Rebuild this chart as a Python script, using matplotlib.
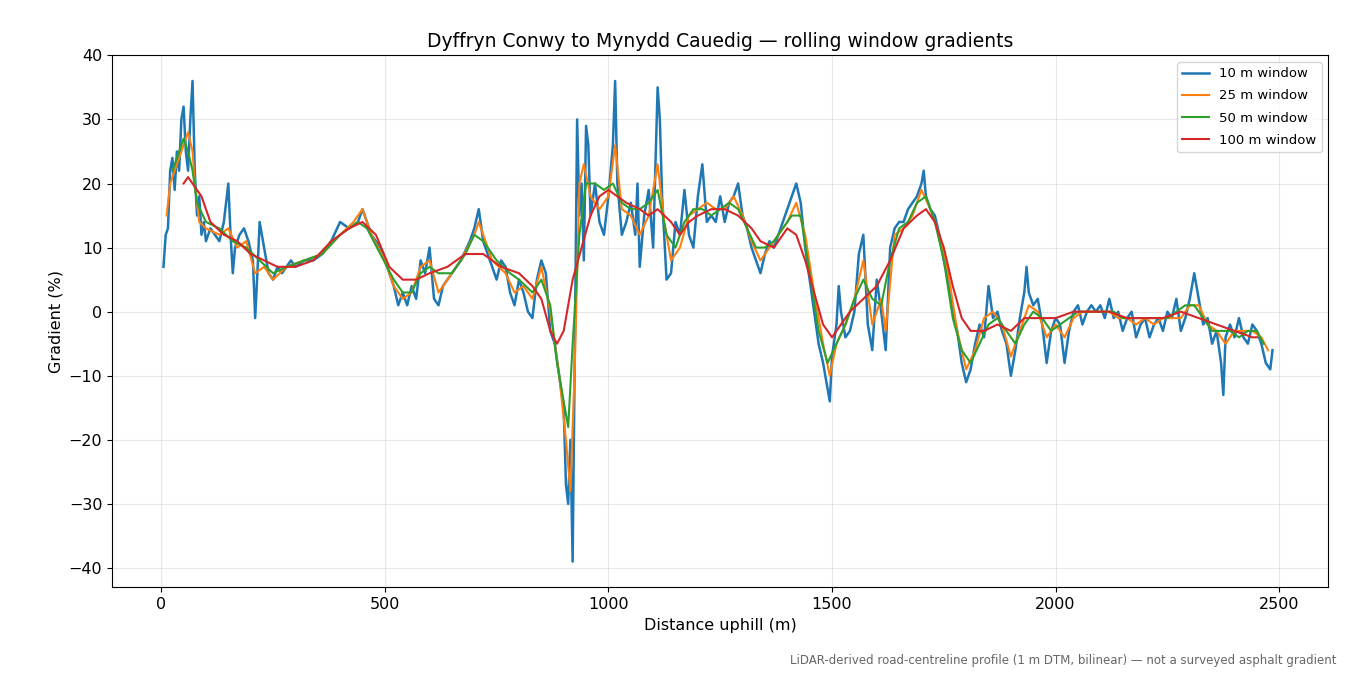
import matplotlib
matplotlib.use("Agg")
import matplotlib.pyplot as plt

# --------------------------------------------------
# Data
# --------------------------------------------------
w10 = [(5,7),(10,12),(15,13),(20,22),(25,24),(30,19),(35,25),(40,22),(45,30),(50,32),(55,25),(60,22),(65,30),(70,36),(75,22),(80,15),(85,18),(90,12),(95,14),(100,11),(110,13),(120,12),(130,11),(140,14),(150,20),(155,12),(160,6),(165,10),(175,12),(185,13),(195,11),(205,8),(210,-1),(215,6),(220,14),(230,10),(240,6),(250,5),(260,7),(270,6),(280,7),(290,8),(300,7),(320,8),(340,8),(360,9),(380,11),(400,14),(420,13),(440,14),(450,16),(460,14),(470,12),(480,11),(490,10),(500,8),(510,6),(520,4),(530,1),(540,3),(550,1),(560,4),(570,2),(580,8),(590,6),(600,10),(610,2),(620,1),(630,4),(650,6),(670,8),(690,11),(700,13),(710,16),(720,11),(730,9),(740,7),(750,5),(760,8),(770,7),(780,3),(790,1),(800,5),(810,3),(820,0),(830,-1),(840,5),(850,8),(860,6),(870,-3),(880,-5),(890,-10),(900,-15),(905,-27),(910,-30),(915,-20),(920,-39),(925,-5),(930,30),(935,15),(940,20),(945,8),(950,29),(955,26),(960,15),(970,20),(980,14),(990,12),(1000,18),(1010,26),(1015,36),(1020,20),(1030,12),(1040,14),(1050,17),(1060,12),(1065,20),(1070,7),(1080,15),(1090,19),(1100,10),(1110,35),(1115,30),(1120,18),(1130,5),(1140,6),(1150,14),(1160,12),(1170,19),(1180,12),(1190,10),(1200,18),(1210,23),(1220,14),(1230,15),(1240,14),(1250,18),(1260,14),(1270,17),(1280,18),(1290,20),(1300,15),(1310,13),(1320,10),(1330,8),(1340,6),(1350,9),(1360,11),(1370,10),(1380,12),(1390,14),(1400,16),(1410,18),(1420,20),(1430,17),(1440,10),(1450,5),(1460,0),(1470,-5),(1480,-8),(1490,-12),(1495,-14),(1500,-7),(1510,-2),(1515,4),(1520,0),(1530,-4),(1540,-3),(1550,0),(1560,9),(1570,12),(1580,-2),(1590,-6),(1600,5),(1610,0),(1620,-6),(1630,10),(1640,13),(1650,14),(1660,14),(1670,16),(1680,17),(1690,18),(1700,20),(1705,22),(1710,18),(1720,16),(1730,15),(1740,12),(1750,8),(1760,5),(1770,0),(1780,-3),(1790,-8),(1800,-11),(1810,-9),(1820,-5),(1830,-2),(1840,-4),(1850,4),(1860,-1),(1870,0),(1880,-3),(1890,-5),(1900,-10),(1910,-6),(1920,-1),(1930,3),(1935,7),(1940,3),(1950,1),(1960,2),(1970,-2),(1980,-8),(1990,-3),(2000,-1),(2010,-2),(2020,-8),(2030,-3),(2040,0),(2050,1),(2060,-2),(2070,0),(2080,1),(2090,0),(2100,1),(2110,-1),(2120,2),(2130,-1),(2140,0),(2150,-3),(2160,-1),(2170,0),(2180,-4),(2190,-2),(2200,-1),(2210,-4),(2220,-2),(2230,-1),(2240,-3),(2250,0),(2260,-1),(2270,2),(2280,-3),(2290,-1),(2300,2),(2310,6),(2320,2),(2330,-2),(2340,-1),(2350,-5),(2360,-3),(2370,-8),(2375,-13),(2380,-4),(2390,-2),(2400,-4),(2410,-1),(2420,-4),(2430,-5),(2440,-2),(2450,-3),(2460,-5),(2470,-8),(2480,-9),(2485,-6)]

w25 = [(12,15),(20,20),(30,22),(40,24),(50,26),(60,28),(70,25),(75,20),(85,14),(100,13),(130,12),(150,13),(170,10),(190,11),(210,6),(230,7),(250,5),(280,7),(320,8),(360,9),(400,12),(430,14),(450,16),(470,12),(500,8),(520,4),(540,2),(560,3),(580,7),(600,8),(620,3),(640,5),(670,8),(700,12),(710,14),(740,8),(770,6),(790,3),(810,4),(830,2),(850,7),(870,0),(890,-10),(905,-20),(915,-28),(925,-8),(935,20),(945,23),(960,18),(980,16),(1000,18),(1015,26),(1030,16),(1050,15),(1070,12),(1090,15),(1110,23),(1125,14),(1140,8),(1160,10),(1180,15),(1200,16),(1220,17),(1240,16),(1260,16),(1280,18),(1300,15),(1320,11),(1340,8),(1360,10),(1380,12),(1400,14),(1420,17),(1440,12),(1460,3),(1480,-5),(1495,-10),(1510,-5),(1530,-2),(1550,2),(1570,8),(1590,-2),(1610,2),(1620,-3),(1640,12),(1660,13),(1680,15),(1700,19),(1720,16),(1740,12),(1760,6),(1780,-3),(1800,-9),(1820,-6),(1840,-1),(1860,0),(1880,-2),(1900,-7),(1920,-3),(1940,1),(1960,0),(1980,-4),(2000,-2),(2020,-4),(2040,-1),(2060,0),(2080,0),(2100,0),(2120,0),(2140,-1),(2160,-1),(2180,-2),(2200,-1),(2220,-2),(2240,-1),(2260,-1),(2280,-1),(2300,1),(2320,1),(2340,-2),(2360,-3),(2380,-5),(2400,-3),(2420,-3),(2440,-3),(2460,-4),(2475,-6)]

w50 = [(25,22),(40,25),(50,27),(60,25),(70,22),(80,17),(100,14),(130,13),(160,11),(190,10),(220,8),(250,6),(280,7),(320,8),(360,9),(400,12),(440,14),(460,13),(490,9),(520,5),(540,3),(560,3),(580,6),(600,7),(620,6),(650,6),(680,9),(700,12),(720,11),(750,8),(780,6),(800,5),(830,3),(850,5),(870,1),(885,-8),(900,-14),(910,-18),(920,-5),(935,12),(950,20),(970,20),(990,19),(1010,20),(1030,17),(1050,16),(1070,16),(1090,17),(1110,19),(1130,12),(1150,10),(1170,14),(1190,16),(1210,16),(1230,15),(1250,16),(1270,17),(1290,16),(1310,13),(1330,10),(1350,10),(1370,11),(1390,13),(1410,15),(1430,15),(1450,6),(1470,-3),(1490,-8),(1510,-5),(1530,-2),(1550,2),(1570,5),(1590,2),(1610,1),(1630,8),(1650,13),(1670,14),(1690,17),(1710,18),(1730,14),(1750,8),(1770,-1),(1790,-6),(1810,-8),(1830,-5),(1850,-2),(1870,-1),(1890,-3),(1910,-5),(1930,-2),(1950,0),(1970,-1),(1990,-3),(2010,-2),(2030,-1),(2050,0),(2070,0),(2090,0),(2110,0),(2130,0),(2150,-1),(2170,-1),(2190,-1),(2210,-1),(2230,-1),(2250,-1),(2270,0),(2290,1),(2310,1),(2330,-1),(2350,-3),(2370,-3),(2390,-3),(2410,-4),(2430,-3),(2450,-3),(2465,-5)]

w100 = [(50,20),(60,21),(70,20),(90,18),(110,14),(140,12),(170,11),(200,9),(230,8),(260,7),(300,7),(340,8),(380,11),(420,13),(450,14),(480,12),(510,7),(540,5),(570,5),(600,6),(640,7),(680,9),(720,9),(760,7),(800,6),(830,4),(850,2),(870,-3),(885,-5),(900,-3),(920,5),(940,10),(960,15),(980,18),(1000,19),(1020,18),(1040,17),(1070,16),(1090,15),(1110,16),(1140,14),(1160,12),(1180,14),(1200,15),(1230,16),(1260,16),(1290,15),(1320,13),(1340,11),(1370,10),(1400,13),(1420,12),(1440,8),(1460,3),(1480,-2),(1500,-4),(1520,-2),(1540,0),(1570,2),(1600,4),(1630,8),(1660,13),(1690,15),(1710,16),(1730,14),(1750,10),(1770,4),(1790,-1),(1810,-3),(1840,-3),(1870,-2),(1900,-3),(1930,-1),(1960,-1),(2000,-1),(2040,0),(2080,0),(2120,0),(2160,-1),(2200,-1),(2240,-1),(2280,0),(2320,-1),(2360,-2),(2400,-3),(2440,-4),(2450,-4)]

series = [(w10, "10 m window", "#1f77b4", 1.8),
          (w25, "25 m window", "#ff7f0e", 1.5),
          (w50, "50 m window", "#2ca02c", 1.5),
          (w100, "100 m window", "#d62728", 1.5)]

# --------------------------------------------------
# Plot
# --------------------------------------------------
fig, ax = plt.subplots(figsize=(13.5, 6.75), dpi=100)
for pts, label, color, lw in series:
    xs = [p[0] for p in pts]
    ys = [p[1] for p in pts]
    ax.plot(xs, ys, color=color, lw=lw, label=label)

ax.set_xlim(-110, 2610)
ax.set_ylim(-43, 40)
ax.set_xticks([0, 500, 1000, 1500, 2000, 2500])
ax.set_yticks(range(-40, 41, 10))
ax.tick_params(labelsize=11.5)
ax.grid(True, alpha=0.3)
ax.set_title("Dyffryn Conwy to Mynydd Cauedig — rolling window gradients", fontsize=13.5)
ax.set_xlabel("Distance uphill (m)", fontsize=11.5)
ax.set_ylabel("Gradient (%)", fontsize=11.5)
ax.legend(loc="upper right", fontsize=9.5, labelspacing=0.7)

plt.subplots_adjust(left=0.083, right=0.984, top=0.918, bottom=0.13)
fig.text(0.99, 0.012, "LiDAR-derived road-centreline profile (1 m DTM, bilinear) — not a surveyed asphalt gradient",
         ha="right", va="bottom", fontsize=8.5, color="#666666")
fig.savefig("out.png")
